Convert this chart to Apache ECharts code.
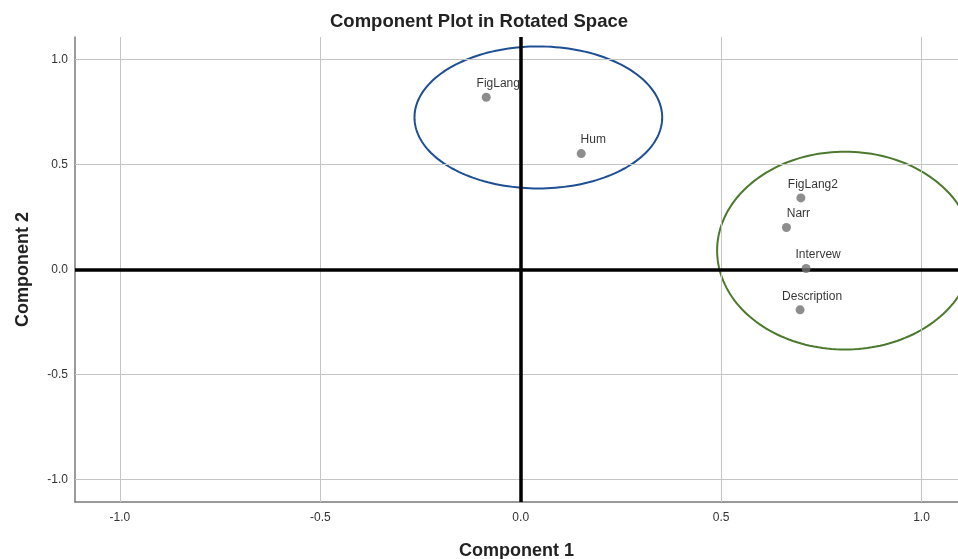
<!DOCTYPE html>
<html>
<head>
<meta charset="utf-8">
<title>Component Plot in Rotated Space</title>
<script src="https://cdn.jsdelivr.net/npm/echarts@6/dist/echarts.min.js"></script>
<style>
  html, body { margin: 0; padding: 0; background: #fff; }
  #chart { width: 958px; height: 559px; }
</style>
</head>
<body>
<div id="chart"></div>
<script>
// Rotated component loadings for each variable
const variables = ['FigLang', 'Hum', 'FigLang2', 'Narr', 'Intervew', 'Description'];
const component1 = [-0.086, 0.151, 0.699, 0.663, 0.712, 0.697];
const component2 = [0.820, 0.552, 0.341, 0.200, 0.005, -0.192];

// Tick values shared by both axes
const tickValues = [-1.0, -0.5, 0.0, 0.5, 1.0];

// Grouping ellipses (centre and radii in loading units)
const ellipseCenterX = [0.044, 0.809];
const ellipseCenterY = [0.724, 0.090];
const ellipseRadiusX = [0.309, 0.319];
const ellipseRadiusY = [0.338, 0.471];
const ellipseColors = ['#1f4f93', '#4b7a2c'];

const FONT = 'Liberation Sans, Arial, sans-serif';
const AXIS_MIN_X = -1.112, AXIS_MAX_X = 1.091;
const AXIS_MIN_Y = -1.107, AXIS_MAX_Y = 1.107;

const points = variables.map((name, i) => ({ name: name, value: [component1[i], component2[i]] }));

const gridLines = [];
tickValues.filter(v => v !== 0).forEach(v => {
  gridLines.push({ xAxis: v });
  gridLines.push({ yAxis: v });
});
const zeroLines = [{ xAxis: 0 }, { yAxis: 0 }];

const chart = echarts.init(document.getElementById('chart'), null, { renderer: 'canvas' });

chart.setOption({
  animation: false,
  backgroundColor: '#ffffff',
  title: {
    text: 'Component Plot in Rotated Space',
    left: 'center',
    top: 7,
    textStyle: { fontFamily: FONT, fontSize: 18.5, fontWeight: 'bold', color: '#222' }
  },
  grid: { left: 75, top: 37, right: 0, height: 465, containLabel: false, outerBoundsMode: 'none' },
  xAxis: {
    type: 'value',
    min: AXIS_MIN_X,
    max: AXIS_MAX_X,
    name: 'Component 1',
    nameLocation: 'middle',
    nameGap: 40,
    nameTextStyle: { fontFamily: FONT, fontSize: 18, fontWeight: 'bold', color: '#222' },
    axisLine: { show: true, onZero: false, lineStyle: { color: '#7a7a7a', width: 1.5 } },
    axisTick: { show: false },
    splitLine: { show: false },
    axisLabel: {
      customValues: tickValues,
      formatter: v => v.toFixed(1),
      margin: 10,
      fontFamily: FONT, fontSize: 12, color: '#333'
    }
  },
  yAxis: {
    type: 'value',
    min: AXIS_MIN_Y,
    max: AXIS_MAX_Y,
    name: 'Component 2',
    nameLocation: 'middle',
    nameGap: 43,
    nameRotate: 90,
    nameTextStyle: { fontFamily: FONT, fontSize: 18, fontWeight: 'bold', color: '#222' },
    axisLine: { show: true, onZero: false, lineStyle: { color: '#7a7a7a', width: 1.5 } },
    axisTick: { show: false },
    splitLine: { show: false },
    axisLabel: {
      customValues: tickValues,
      formatter: v => v.toFixed(1),
      margin: 7,
      fontFamily: FONT, fontSize: 12, color: '#333'
    }
  },
  series: [
    {
      // reference grid
      type: 'scatter',
      data: [],
      z: 1,
      silent: true,
      markLine: {
        silent: true,
        symbol: ['none', 'none'],
        label: { show: false },
        lineStyle: { color: '#c4c4c4', width: 1, type: 'solid' },
        data: gridLines
      }
    },
    {
      // origin lines
      type: 'scatter',
      data: [],
      z: 2,
      silent: true,
      markLine: {
        silent: true,
        symbol: ['none', 'none'],
        label: { show: false },
        lineStyle: { color: '#000', width: 3.5, type: 'solid' },
        data: zeroLines
      }
    },
    {
      // grouping ellipses
      type: 'custom',
      z: 3,
      silent: true,
      clip: false,
      data: ellipseCenterX.map((cx, i) => [cx, ellipseCenterY[i]]),
      renderItem: function (params, api) {
        const i = params.dataIndex;
        const pts = [];
        const n = 180;
        for (let k = 0; k < n; k++) {
          const t = (k / n) * Math.PI * 2;
          pts.push(api.coord([
            ellipseCenterX[i] + ellipseRadiusX[i] * Math.cos(t),
            ellipseCenterY[i] + ellipseRadiusY[i] * Math.sin(t)
          ]));
        }
        return {
          type: 'polygon',
          shape: { points: pts },
          style: { fill: null, stroke: ellipseColors[i], lineWidth: 2 }
        };
      }
    },
    {
      type: 'scatter',
      z: 5,
      symbol: 'circle',
      symbolSize: 9,
      itemStyle: { color: '#707070' },
      label: {
        show: true,
        position: 'top',
        distance: 3,
        offset: [12, 0],
        formatter: p => p.name,
        fontFamily: FONT,
        fontSize: 12,
        color: '#000'
      },
      data: points
    }
  ]
});
</script>
</body>
</html>
